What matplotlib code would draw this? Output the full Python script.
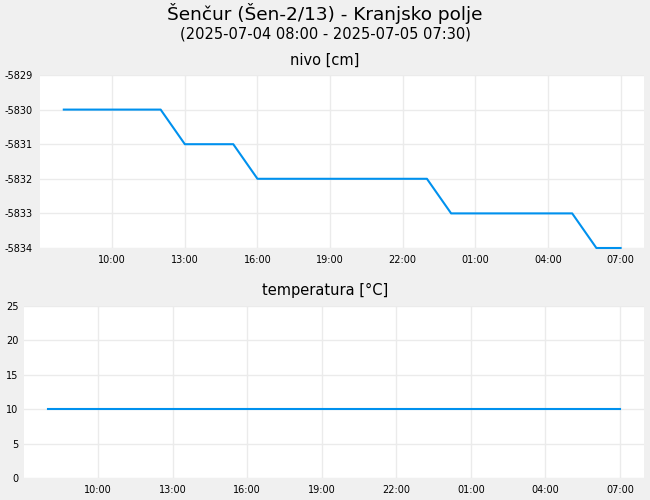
import pandas as pd
import numpy as np
import matplotlib
matplotlib.use('Agg')
import matplotlib.pyplot as plt
import matplotlib.dates as mdates

plt.rcParams['axes.unicode_minus'] = False

# Podatki (urni odčitki)
cas = pd.date_range('2025-07-04 08:00', '2025-07-05 07:00', freq='h')
nivo = [-5830, -5830, -5830, -5830, -5830,
        -5831, -5831, -5831,
        -5832, -5832, -5832, -5832, -5832, -5832, -5832, -5832,
        -5833, -5833, -5833, -5833, -5833, -5833,
        -5834, -5834]
temperatura = [10] * 24

naslov = 'Šenčur (Šen-2/13) - Kranjsko polje'
podnaslov = '(2025-07-04 08:00 - 2025-07-05 07:30)'
barva = '#0091ee'
x_od = pd.Timestamp('2025-07-04 07:01')
x_do = pd.Timestamp('2025-07-05 07:58')

fig = plt.figure(figsize=(6.5, 5), dpi=100, facecolor='#f0f0f0')
ax1 = fig.add_axes([40 / 650, 1 - 248 / 500, 604 / 650, 173 / 500])
ax2 = fig.add_axes([24 / 650, 1 - 478 / 500, 620 / 650, 172 / 500])

fig.text(0.5, 1 - 14 / 500, naslov, ha='center', va='center', fontsize=13.3)
fig.text(0.5, 1 - 34 / 500, podnaslov, ha='center', va='center', fontsize=10.5)
fig.text(0.5, 1 - 60 / 500, 'nivo [cm]', ha='center', va='center', fontsize=10.5)
fig.text(0.5, 1 - 290 / 500, 'temperatura [°C]', ha='center', va='center', fontsize=10.5)

ax1.plot(cas, nivo, color=barva, lw=1.5, clip_on=False)
ax1.set_ylim(-5834, -5829)
ax1.set_yticks(np.arange(-5834, -5828, 1))
ax1.tick_params(axis='y', pad=5)

ax2.plot(cas, temperatura, color=barva, lw=1.5)
ax2.set_ylim(0, 25)
ax2.set_yticks(np.arange(0, 26, 5))
ax2.tick_params(axis='y', pad=4)

for ax in (ax1, ax2):
    ax.set_facecolor('white')
    ax.set_xlim(x_od, x_do)
    ax.xaxis.set_major_locator(mdates.HourLocator(byhour=[1, 4, 7, 10, 13, 16, 19, 22]))
    ax.xaxis.set_major_formatter(mdates.DateFormatter('%H:%M'))
    ax.grid(color='#ebebeb', lw=1)
    ax.set_axisbelow(True)
    for s in ax.spines.values():
        s.set_visible(False)
    ax.tick_params(length=0, labelsize=7)
    ax.tick_params(axis='x', pad=5)

plt.savefig('out.png', dpi=100, facecolor=fig.get_facecolor())
